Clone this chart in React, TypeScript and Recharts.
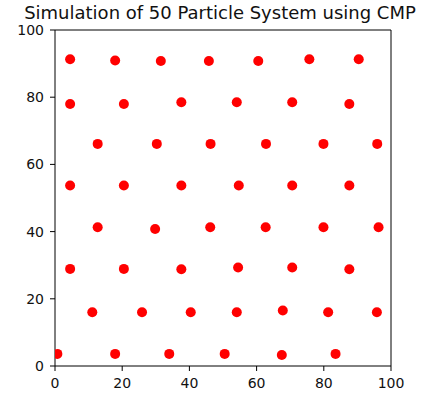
import React from "react";
import { ScatterChart, Scatter, XAxis, YAxis, ZAxis } from "recharts";

// Particle positions (x, y) after the CMP simulation
const particleX: number[] = [
  4.5, 17.9, 31.5, 45.8, 60.5, 75.7, 90.4,
  4.5, 20.5, 37.6, 54.1, 70.6, 87.6,
  12.7, 30.3, 46.3, 62.8, 79.9, 95.9,
  4.5, 20.5, 37.6, 54.7, 70.6, 87.6,
  12.7, 29.8, 46.2, 62.7, 79.9, 96.3,
  4.5, 20.5, 37.6, 54.5, 70.6, 87.6,
  11.1, 25.9, 40.4, 54.1, 67.8, 81.3, 95.8,
  0.7, 17.9, 34.0, 50.5, 67.5, 83.5,
];
const particleY: number[] = [
  91.3, 90.9, 90.8, 90.8, 90.8, 91.3, 91.3,
  78.0, 78.0, 78.5, 78.5, 78.5, 78.0,
  66.1, 66.1, 66.1, 66.1, 66.1, 66.1,
  53.7, 53.7, 53.7, 53.7, 53.7, 53.7,
  41.3, 40.8, 41.3, 41.3, 41.3, 41.3,
  28.9, 28.9, 28.8, 29.3, 29.3, 28.8,
  16.0, 16.0, 16.0, 16.0, 16.5, 16.0, 16.0,
  3.6, 3.6, 3.6, 3.6, 3.3, 3.6,
];
const axisTicks: number[] = [0, 20, 40, 60, 80, 100];
const chartTitle = "Simulation of 50 Particle System using CMP";

const particles = particleX.map((x, i) => ({ x, y: particleY[i] }));

const tickStyle = { fill: "#111", fontSize: 14, fontFamily: "DejaVu Sans" };

const Dot = (props: any) => (
  <circle cx={props.cx} cy={props.cy} r={5} fill="#ff0000" />
);

export default function App() {
  return (
    <div style={{ position: "absolute", left: 0, top: 0, width: 432, height: 396, background: "#fff" }}>
      <svg width={432} height={30} style={{ position: "absolute", left: 0, top: 0 }}>
        <text
          x={220}
          y={18.5}
          textAnchor="middle"
          fontFamily="DejaVu Sans"
          fontSize={18}
          fill="#111"
        >
          {chartTitle}
        </text>
      </svg>
      <ScatterChart
        width={432}
        height={396}
        margin={{ top: 29, right: 40, bottom: 5, left: 5 }}
      >
        <XAxis
          type="number"
          dataKey="x"
          xAxisId="bottom"
          orientation="bottom"
          domain={[0, 100]}
          ticks={axisTicks}
          allowDataOverflow
          height={25}
          tickSize={5}
          tickMargin={7}
          tick={tickStyle}
          stroke="#000"
          tickLine={{ stroke: "#000" }}
        />
        <XAxis
          type="number"
          dataKey="x"
          xAxisId="top"
          orientation="top"
          domain={[0, 100]}
          height={1}
          tick={false}
          tickLine={false}
          stroke="#000"
        />
        <YAxis
          type="number"
          dataKey="y"
          yAxisId="left"
          orientation="left"
          domain={[0, 100]}
          ticks={axisTicks}
          allowDataOverflow
          width={50}
          tickSize={5}
          tickMargin={6}
          tick={tickStyle}
          stroke="#000"
          tickLine={{ stroke: "#000" }}
        />
        <YAxis
          type="number"
          dataKey="y"
          yAxisId="right"
          orientation="right"
          domain={[0, 100]}
          width={1}
          tick={false}
          tickLine={false}
          stroke="#000"
        />
        <ZAxis range={[80, 80]} />
        <Scatter
          data={particles}
          xAxisId="bottom"
          yAxisId="left"
          shape={Dot}
          isAnimationActive={false}
        />
      </ScatterChart>
    </div>
  );
}
